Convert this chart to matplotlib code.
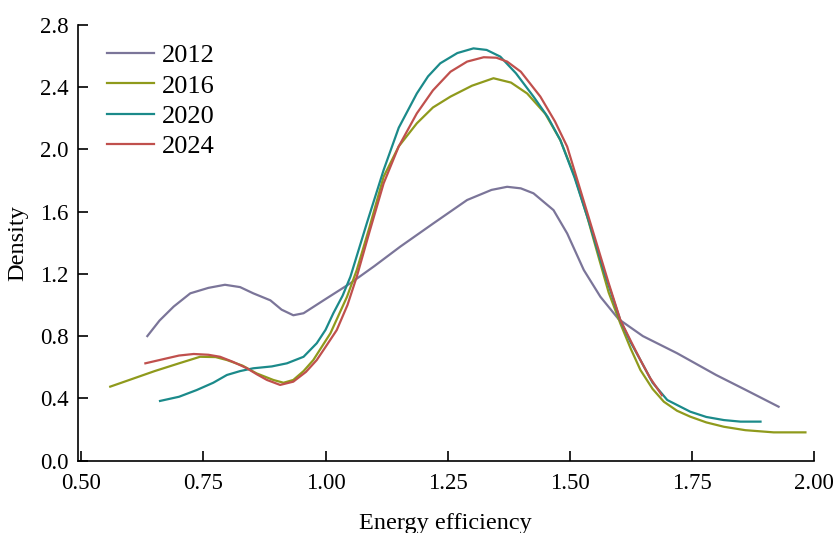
import matplotlib.pyplot as plt

plt.rcParams['font.family'] = ['Liberation Serif', 'DejaVu Serif']

# kernel density curves
x_2012 = [0.635, 0.66, 0.689, 0.723, 0.76, 0.794, 0.825, 0.852, 0.887, 0.91, 0.934, 0.955,
          0.996, 1.051, 1.10, 1.153, 1.221, 1.290, 1.34, 1.372, 1.40, 1.426, 1.467, 1.495,
          1.529, 1.563, 1.60, 1.65, 1.72, 1.80, 1.86, 1.928]
y_2012 = [0.80, 0.90, 0.99, 1.075, 1.11, 1.13, 1.115, 1.075, 1.03, 0.97, 0.934, 0.947,
          1.03, 1.14, 1.25, 1.375, 1.525, 1.675, 1.74, 1.76, 1.75, 1.718, 1.61, 1.46,
          1.225, 1.053, 0.91, 0.80, 0.69, 0.55, 0.455, 0.346]

x_2016 = [0.559, 0.60, 0.65, 0.70, 0.743, 0.775, 0.798, 0.83, 0.859, 0.893, 0.914, 0.934,
          0.955, 0.975, 1.01, 1.044, 1.064, 1.09, 1.119, 1.15, 1.187, 1.22, 1.256, 1.30,
          1.344, 1.38, 1.413, 1.45, 1.481, 1.51, 1.536, 1.56, 1.58, 1.604, 1.625, 1.645,
          1.67, 1.693, 1.72, 1.747, 1.78, 1.816, 1.86, 1.918, 1.983]
y_2016 = [0.475, 0.52, 0.575, 0.625, 0.667, 0.665, 0.646, 0.61, 0.56, 0.518, 0.50, 0.518,
          0.575, 0.646, 0.818, 1.053, 1.225, 1.50, 1.825, 2.02, 2.168, 2.27, 2.34, 2.41,
          2.458, 2.43, 2.36, 2.23, 2.06, 1.83, 1.568, 1.30, 1.08, 0.88, 0.72, 0.582,
          0.46, 0.378, 0.32, 0.282, 0.245, 0.217, 0.195, 0.181, 0.181]

x_2020 = [0.661, 0.70, 0.736, 0.77, 0.798, 0.825, 0.852, 0.89, 0.921, 0.955, 0.982, 1.00,
          1.016, 1.035, 1.051, 1.085, 1.119, 1.15, 1.187, 1.21, 1.235, 1.27, 1.303, 1.33,
          1.358, 1.39, 1.426, 1.455, 1.481, 1.51, 1.54, 1.57, 1.604, 1.625, 1.645, 1.67,
          1.70, 1.747, 1.78, 1.816, 1.85, 1.891]
y_2020 = [0.383, 0.41, 0.453, 0.50, 0.55, 0.575, 0.593, 0.605, 0.625, 0.667, 0.754, 0.84,
          0.947, 1.06, 1.182, 1.53, 1.868, 2.14, 2.36, 2.47, 2.554, 2.62, 2.65, 2.64,
          2.597, 2.49, 2.34, 2.21, 2.06, 1.82, 1.53, 1.22, 0.90, 0.76, 0.646, 0.50,
          0.389, 0.314, 0.28, 0.26, 0.25, 0.25]

x_2024 = [0.631, 0.675, 0.70, 0.730, 0.76, 0.784, 0.81, 0.839, 0.86, 0.880, 0.907, 0.934,
          0.96, 0.982, 1.00, 1.023, 1.045, 1.064, 1.09, 1.119, 1.15, 1.187, 1.22, 1.256,
          1.29, 1.324, 1.35, 1.372, 1.40, 1.44, 1.47, 1.495, 1.52, 1.55, 1.58, 1.604,
          1.625, 1.645, 1.665, 1.689]
y_2024 = [0.625, 0.657, 0.675, 0.685, 0.68, 0.667, 0.635, 0.593, 0.553, 0.518, 0.486, 0.507,
          0.57, 0.646, 0.73, 0.839, 1.00, 1.182, 1.47, 1.782, 2.02, 2.232, 2.38, 2.5,
          2.565, 2.593, 2.59, 2.565, 2.50, 2.34, 2.18, 2.018, 1.76, 1.45, 1.14, 0.903,
          0.77, 0.646, 0.53, 0.42]

years = ['2012', '2016', '2020', '2024']
colors = ['#7b7599', '#8f9a1c', '#1b8a8a', '#c0504d']
xticks = [0.50, 0.75, 1.00, 1.25, 1.50, 1.75, 2.00]
yticks = [0.0, 0.4, 0.8, 1.2, 1.6, 2.0, 2.4, 2.8]

fig = plt.figure(figsize=(8.37, 5.33), dpi=100)
ax = fig.add_axes([0.0932, 0.136, 0.879, 0.817])

series = [(x_2012, y_2012), (x_2016, y_2016), (x_2020, y_2020), (x_2024, y_2024)]
for (xs, ys), yr, c in zip(series, years, colors):
    ax.plot(xs, ys, color=c, lw=1.6, label=yr, solid_joinstyle='round')

ax.set_xlim(0.493, 2.0)
ax.set_ylim(0, 2.8)
ax.set_xticks(xticks)
ax.set_xticklabels(['%.2f' % v for v in xticks])
ax.set_yticks(yticks)
ax.set_yticklabels(['%.1f' % v for v in yticks])
ax.tick_params(direction='in', length=7, width=1.2, labelsize=16.5, pad=7)
ax.tick_params(axis='x', pad=9)
for s in ['top', 'right']:
    ax.spines[s].set_visible(False)
for s in ['left', 'bottom']:
    ax.spines[s].set_linewidth(1.2)

ax.set_xlabel('Energy efficiency', fontsize=17.5, labelpad=14)
ax.set_ylabel('Density', fontsize=17.5, labelpad=8)

ax.legend(loc='upper left', bbox_to_anchor=(0.039, 0.957), frameon=False, fontsize=19,
          handlelength=1.8, handletextpad=0.3, labelspacing=0.26, borderaxespad=0,
          borderpad=0)

fig.savefig('out.png', dpi=100)
